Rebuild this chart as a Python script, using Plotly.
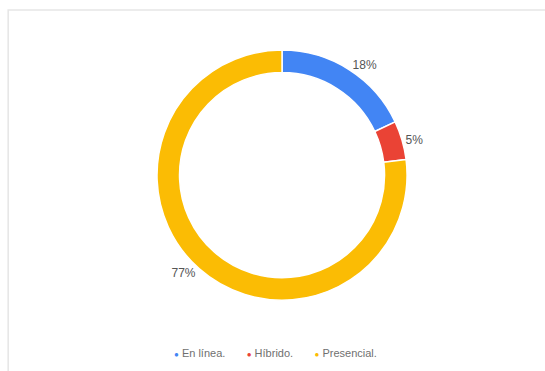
import plotly.graph_objects as go

labels = ["En línea.", "Híbrido.", "Presencial."]
values = [18, 5, 77]
colors = ["#4285F4", "#EA4335", "#FBBC04"]

fig = go.Figure()
fig.add_trace(go.Pie(
    labels=labels, values=values, hole=0.82, sort=False, direction="clockwise",
    rotation=0, marker=dict(colors=colors, line=dict(color="white", width=1.5)),
    textinfo="percent", textposition="outside", texttemplate="%{percent:.0%}",
    textfont=dict(family="Arial, Liberation Sans", size=12, color="#555555"),
    domain=dict(x=[0.2, 0.835], y=[0.191, 0.865]),
    showlegend=False,
))
legend_text = "       ".join(
    f"<span style='color:{c}; font-size:8px'>●</span> {l}" for l, c in zip(labels, colors)
)
fig.update_layout(
    width=545, height=371, margin=dict(l=0, r=0, t=0, b=0),
    paper_bgcolor="white",
    annotations=[dict(text=legend_text, xref="paper", yref="paper", x=0.506, y=0.048,
                      xanchor="center", yanchor="middle", showarrow=False,
                      font=dict(family="Arial, Liberation Sans", size=11, color="#707070"))],
    shapes=[dict(type="rect", xref="paper", yref="paper", x0=0.015, x1=1.01, y0=-0.01, y1=0.973,
                 line=dict(color="#e6e6e6", width=1.5))],
)
fig.write_html("out.html")
